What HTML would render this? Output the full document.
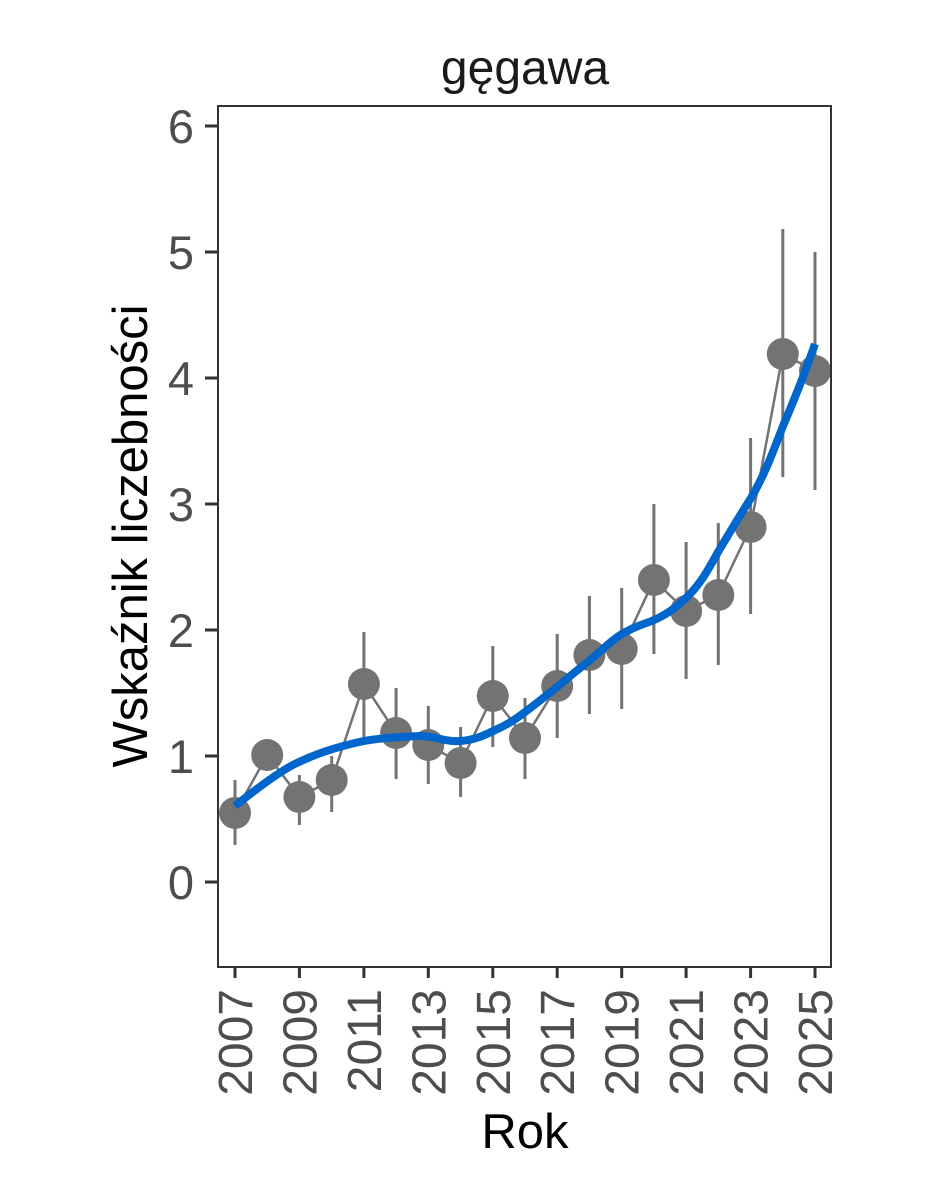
<!DOCTYPE html>
<html><head><meta charset="utf-8"><style>
html,body{margin:0;padding:0;background:#fff;}
svg{display:block;}
text{font-family:"Liberation Sans",Arial,sans-serif;}
</style></head><body>
<svg width="944" height="1181" viewBox="0 0 944 1181" xmlns="http://www.w3.org/2000/svg">
<rect width="944" height="1181" fill="#fff"/>
<text x="525" y="84" font-size="48" text-anchor="middle" fill="#1a1a1a">gęgawa</text>
<g stroke="#737373" stroke-width="3">
<line x1="235" y1="845" x2="235" y2="780"/>
<line x1="299.4" y1="825" x2="299.4" y2="775"/>
<line x1="331.7" y1="812" x2="331.7" y2="756"/>
<line x1="363.9" y1="743" x2="363.9" y2="632"/>
<line x1="396.1" y1="779" x2="396.1" y2="688"/>
<line x1="428.3" y1="784" x2="428.3" y2="706"/>
<line x1="460.6" y1="797" x2="460.6" y2="727"/>
<line x1="492.8" y1="747" x2="492.8" y2="646"/>
<line x1="525" y1="779" x2="525" y2="698"/>
<line x1="557.2" y1="738" x2="557.2" y2="634"/>
<line x1="589.4" y1="714" x2="589.4" y2="596"/>
<line x1="621.7" y1="709" x2="621.7" y2="588"/>
<line x1="653.9" y1="654" x2="653.9" y2="504"/>
<line x1="686.1" y1="679" x2="686.1" y2="542"/>
<line x1="718.3" y1="665" x2="718.3" y2="523"/>
<line x1="750.6" y1="614" x2="750.6" y2="438"/>
<line x1="782.8" y1="477" x2="782.8" y2="229"/>
<line x1="815" y1="490" x2="815" y2="252"/>
</g>
<polyline fill="none" stroke="#737373" stroke-width="2.5" points="235,813 267.2,755 299.4,797 331.7,780 363.9,684 396.1,733 428.3,745 460.6,763 492.8,696 525,738 557.2,686 589.4,655 621.7,649 653.9,580 686.1,611 718.3,595 750.6,527 782.8,354 815,371"/>
<g fill="#737373">
<circle cx="235" cy="813" r="16"/><circle cx="267.2" cy="755" r="16"/><circle cx="299.4" cy="797" r="16"/><circle cx="331.7" cy="780" r="16"/><circle cx="363.9" cy="684" r="16"/><circle cx="396.1" cy="733" r="16"/><circle cx="428.3" cy="745" r="16"/><circle cx="460.6" cy="763" r="16"/><circle cx="492.8" cy="696" r="16"/><circle cx="525" cy="738" r="16"/><circle cx="557.2" cy="686" r="16"/><circle cx="589.4" cy="655" r="16"/><circle cx="621.7" cy="649" r="16"/><circle cx="653.9" cy="580" r="16"/><circle cx="686.1" cy="611" r="16"/><circle cx="718.3" cy="595" r="16"/><circle cx="750.6" cy="527" r="16"/><circle cx="782.8" cy="354" r="16"/><circle cx="815" cy="371" r="16"/>
</g>
<path fill="none" stroke="#0066CC" stroke-width="8" stroke-linejoin="round" d="M235,806 C260,786 285,768 299,762 C320,752 340,746 364,741 C385,737 405,737 420,736 C435,736 445,742 460,741 C475,740 485,735 493,731 C505,726 515,720 525,712 C540,701 548,694 557,687 C570,676 580,668 589,661 C600,652 610,641 622,634 C635,626 645,624 654,620 C670,613 678,605 686,598 C700,585 708,570 718,552 C730,532 740,515 751,498 C765,474 773,452 783,426 C795,398 806,370 815,344"/>
<rect x="218" y="106" width="613" height="861" fill="none" stroke="#333" stroke-width="2"/>
<g stroke="#333" stroke-width="3">
<line x1="205" y1="882" x2="218" y2="882"/><line x1="205" y1="756" x2="218" y2="756"/><line x1="205" y1="630" x2="218" y2="630"/><line x1="205" y1="504" x2="218" y2="504"/><line x1="205" y1="378" x2="218" y2="378"/><line x1="205" y1="252" x2="218" y2="252"/><line x1="205" y1="126" x2="218" y2="126"/>
<line x1="235" y1="967" x2="235" y2="978"/><line x1="299.4" y1="967" x2="299.4" y2="978"/><line x1="363.9" y1="967" x2="363.9" y2="978"/><line x1="428.3" y1="967" x2="428.3" y2="978"/><line x1="492.8" y1="967" x2="492.8" y2="978"/><line x1="557.2" y1="967" x2="557.2" y2="978"/><line x1="621.7" y1="967" x2="621.7" y2="978"/><line x1="686.1" y1="967" x2="686.1" y2="978"/><line x1="750.6" y1="967" x2="750.6" y2="978"/><line x1="815" y1="967" x2="815" y2="978"/>
</g>
<g font-size="47" fill="#4d4d4d" text-anchor="end">
<text x="194" y="899">0</text><text x="194" y="773">1</text><text x="194" y="647">2</text><text x="194" y="521">3</text><text x="194" y="395">4</text><text x="194" y="269">5</text><text x="194" y="143">6</text>
</g>
<g font-size="48" fill="#4d4d4d" text-anchor="end">
<text transform="translate(252,989) rotate(-90)">2007</text>
<text transform="translate(316.4,989) rotate(-90)">2009</text>
<text transform="translate(380.9,989) rotate(-90)">2011</text>
<text transform="translate(445.3,989) rotate(-90)">2013</text>
<text transform="translate(509.8,989) rotate(-90)">2015</text>
<text transform="translate(574.2,989) rotate(-90)">2017</text>
<text transform="translate(638.7,989) rotate(-90)">2019</text>
<text transform="translate(703.1,989) rotate(-90)">2021</text>
<text transform="translate(767.6,989) rotate(-90)">2023</text>
<text transform="translate(832,989) rotate(-90)">2025</text>
</g>
<text x="525" y="1148" font-size="49" text-anchor="middle" fill="#000">Rok</text>
<text transform="translate(147,536) rotate(-90)" font-size="49" text-anchor="middle" fill="#000">Wskaźnik liczebności</text>
</svg>
</body></html>
